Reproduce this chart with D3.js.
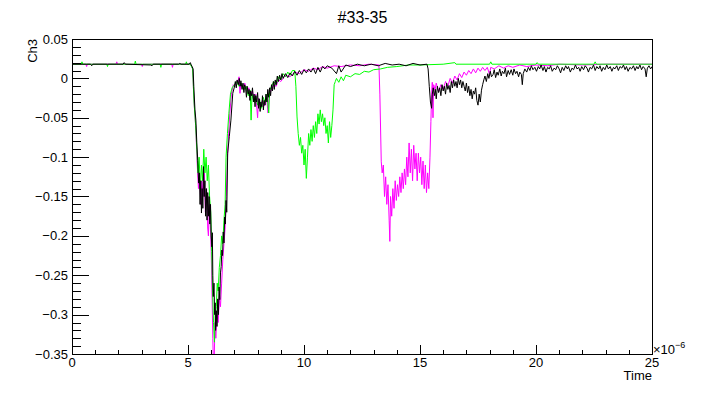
<!doctype html>
<html lang="en">
<head>
  <meta charset="utf-8">
  <title>#33-35</title>
  <style>
    body { margin: 0; background: #fff; }
    text { font-family: "Liberation Sans", Arial, sans-serif; fill: #000; }
  </style>
</head>
<body>
<div id="chartDiv"></div>
<script src="https://d3js.org/d3.v7.min.js"></script>
<script>
// time in units of 1e-6 s, amplitude of Ch3
var xTicks = [0, 5, 10, 15, 20, 25];
var yTicks = [0.05, 0, -0.05, -0.1, -0.15, -0.2, -0.25, -0.3, -0.35];
var yTickLabels = ["0.05", "0", "\u22120.05", "\u22120.1", "\u22120.15", "\u22120.2", "\u22120.25", "\u22120.3", "\u22120.35"];

var magentaTrace = [
  [0,0.018],[0.6,0.018],[0.63,0.015],[0.66,0.018],[1.9,0.018],[1.93,0.021],[1.96,0.018],[3.0,0.018],[3.03,0.015],[3.06,0.018],
  [4.3,0.018],[4.33,0.014],[4.36,0.018],[5.08,0.018],[5.14,0.016],[5.2,0.012],[5.26,-0.03],[5.33,-0.06],[5.4,-0.11],[5.45,-0.14],
  [5.5,-0.12],[5.55,-0.16],[5.6,-0.13],[5.65,-0.15],[5.7,-0.12],[5.75,-0.17],[5.8,-0.14],[5.85,-0.19],[5.88,-0.2],[5.92,-0.16],
  [5.96,-0.185],[6.0,-0.22],[6.04,-0.28],[6.07,-0.33],[6.1,-0.37],[6.13,-0.36],[6.16,-0.31],[6.2,-0.33],[6.25,-0.3],[6.3,-0.31],
  [6.35,-0.28],[6.4,-0.29],[6.45,-0.26],[6.5,-0.23],[6.55,-0.21],[6.6,-0.19],[6.65,-0.15],[6.7,-0.1],[6.75,-0.07],[6.8,-0.045],
  [6.87,-0.02],[6.95,-0.008],[7.0,-0.01],[7.1,-0.003],[7.15,-0.006],[7.2,0.002],[7.24,-0.019],[7.28,-0.006],[7.35,-0.01],[7.45,-0.006],
  [7.55,-0.018],[7.62,-0.012],[7.7,-0.022],[7.78,-0.016],[7.85,-0.028],[7.92,-0.02],[8.0,-0.05],[8.04,-0.025],[8.12,-0.034],[8.2,-0.028],
  [8.3,-0.035],[8.38,-0.022],[8.45,-0.044],[8.5,-0.02],[8.6,-0.014],[8.7,-0.008],[8.8,-0.01],[8.9,-0.002],[9.0,-0.004],[9.2,0.004],
  [9.4,0.002],[9.6,0.008],[9.8,0.006],[10.0,0.011],[10.2,0.009],[10.4,0.013],[10.6,0.011],[10.8,0.015],[11.0,0.013],[11.3,0.016],
  [11.6,0.015],[12.0,0.017],[12.4,0.016],[12.8,0.018],[13.23,0.017],[13.27,-0.02],[13.33,-0.106],[13.37,-0.12],[13.42,-0.11],[13.47,-0.15],
  [13.52,-0.125],[13.57,-0.16],[13.62,-0.135],[13.67,-0.18],[13.7,-0.207],[13.73,-0.15],[13.78,-0.175],[13.83,-0.14],[13.88,-0.165],[13.93,-0.13],
  [13.98,-0.155],[14.03,-0.135],[14.08,-0.15],[14.13,-0.125],[14.18,-0.145],[14.23,-0.12],[14.28,-0.14],[14.33,-0.115],[14.38,-0.135],[14.43,-0.1],
  [14.48,-0.125],[14.53,-0.082],[14.58,-0.12],[14.63,-0.09],[14.68,-0.13],[14.73,-0.085],[14.78,-0.115],[14.83,-0.095],[14.88,-0.13],[14.93,-0.095],
  [14.98,-0.12],[15.03,-0.1],[15.08,-0.135],[15.13,-0.105],[15.18,-0.14],[15.23,-0.11],[15.28,-0.145],[15.33,-0.12],[15.38,-0.14],[15.43,-0.1],
  [15.47,-0.055],[15.5,-0.02],[15.53,-0.005],[15.56,-0.05],[15.59,-0.008],[15.65,-0.015],[15.7,-0.006],[15.8,-0.017],[15.9,-0.008],[16.0,-0.014],
  [16.1,-0.004],[16.2,-0.01],[16.3,0.0],[16.4,-0.006],[16.5,0.003],[16.6,-0.002],[16.7,0.006],[16.8,0.001],[16.9,0.008],[17.0,0.004],
  [17.1,0.01],[17.2,0.006],[17.3,0.012],[17.4,0.007],[17.5,0.013],[17.6,0.009],[17.7,0.014],[17.8,0.01],[17.9,0.014],[18.0,0.005],
  [18.05,0.014],[18.2,0.012],[18.4,0.016],[18.6,0.013],[18.8,0.016],[19.0,0.014],[19.3,0.017],[19.6,0.015],[20.0,0.017],[20.5,0.016],
  [21.0,0.018],[22.0,0.017],[23.0,0.018],[25.0,0.018]
];

var greenTrace = [
  [0,0.018],[0.4,0.018],[0.43,0.021],[0.46,0.018],[1.5,0.018],[1.53,0.015],[1.56,0.018],[2.7,0.018],[2.73,0.022],[2.76,0.018],
  [3.8,0.018],[3.83,0.014],[3.86,0.018],[4.9,0.018],[4.93,0.021],[4.96,0.018],[5.1,0.018],[5.2,0.012],[5.26,-0.03],[5.33,-0.06],
  [5.38,-0.09],[5.43,-0.12],[5.48,-0.1],[5.53,-0.14],[5.58,-0.11],[5.63,-0.13],[5.68,-0.09],[5.73,-0.12],[5.78,-0.1],[5.83,-0.13],
  [5.88,-0.11],[5.93,-0.15],[5.98,-0.17],[6.02,-0.22],[6.06,-0.27],[6.1,-0.31],[6.14,-0.335],[6.18,-0.3],[6.22,-0.29],[6.26,-0.26],
  [6.3,-0.27],[6.35,-0.24],[6.4,-0.225],[6.45,-0.2],[6.5,-0.21],[6.55,-0.18],[6.6,-0.16],[6.64,-0.1],[6.7,-0.07],[6.76,-0.045],
  [6.83,-0.02],[6.9,-0.012],[7.0,-0.008],[7.1,-0.004],[7.2,-0.01],[7.3,-0.006],[7.4,-0.015],[7.5,-0.01],[7.6,-0.022],[7.68,-0.015],
  [7.72,-0.053],[7.76,-0.02],[7.85,-0.03],[7.92,-0.022],[8.0,-0.034],[8.08,-0.026],[8.16,-0.038],[8.24,-0.024],[8.32,-0.03],[8.4,-0.02],
  [8.48,-0.044],[8.52,-0.015],[8.6,-0.01],[8.7,-0.004],[8.8,-0.008],[8.9,0.002],[9.0,-0.002],[9.1,0.006],[9.2,0.002],[9.3,0.008],
  [9.4,0.004],[9.5,0.01],[9.6,0.01],[9.65,-0.01],[9.7,-0.049],[9.75,-0.07],[9.8,-0.085],[9.85,-0.075],[9.9,-0.095],[9.95,-0.085],
  [10.0,-0.11],[10.05,-0.09],[10.1,-0.127],[10.15,-0.1],[10.2,-0.07],[10.25,-0.085],[10.3,-0.065],[10.35,-0.08],[10.4,-0.06],[10.45,-0.075],
  [10.5,-0.055],[10.55,-0.07],[10.6,-0.045],[10.65,-0.058],[10.7,-0.04],[10.75,-0.055],[10.8,-0.045],[10.85,-0.06],[10.9,-0.05],[10.95,-0.07],
  [11.0,-0.06],[11.05,-0.082],[11.1,-0.055],[11.15,-0.075],[11.2,-0.06],[11.25,-0.04],[11.3,-0.008],[11.35,-0.004],[11.4,0.0],[11.5,-0.005],
  [11.6,0.002],[11.7,-0.003],[11.8,0.004],[12.0,0.002],[12.2,0.006],[12.4,0.005],[12.6,0.009],[12.8,0.008],[13.0,0.011],[13.3,0.012],
  [13.6,0.014],[14.0,0.015],[14.5,0.017],[15.0,0.017],[16.0,0.018],[16.5,0.02],[16.55,0.018],[18.0,0.018],[18.05,0.021],[18.1,0.018],
  [20.0,0.018],[20.05,0.02],[20.1,0.018],[22.5,0.018],[22.55,0.021],[22.6,0.018],[25.0,0.018]
];

var blackTrace = [
  [0,0.018],[0.8,0.018],[0.85,0.016],[0.9,0.018],[2.2,0.018],[2.25,0.02],[2.3,0.018],[3.4,0.017],[3.45,0.016],[3.5,0.018],
  [4.6,0.018],[4.65,0.019],[4.7,0.018],[5.05,0.018],[5.1,0.02],[5.14,0.017],[5.18,0.015],[5.22,0.012],[5.25,-0.01],[5.3,-0.04],
  [5.34,-0.053],[5.38,-0.082],[5.42,-0.104],[5.46,-0.133],[5.49,-0.12],[5.52,-0.16],[5.55,-0.13],[5.58,-0.171],[5.61,-0.14],[5.64,-0.165],
  [5.67,-0.112],[5.7,-0.15],[5.73,-0.13],[5.76,-0.175],[5.79,-0.14],[5.82,-0.18],[5.85,-0.145],[5.88,-0.175],[5.91,-0.15],[5.94,-0.185],
  [5.97,-0.16],[6.0,-0.2],[6.03,-0.214],[6.05,-0.196],[6.07,-0.25],[6.09,-0.277],[6.12,-0.26],[6.15,-0.3],[6.17,-0.285],[6.19,-0.32],
  [6.22,-0.295],[6.25,-0.315],[6.28,-0.28],[6.31,-0.3],[6.34,-0.265],[6.37,-0.281],[6.4,-0.247],[6.43,-0.239],[6.46,-0.218],[6.49,-0.225],
  [6.52,-0.195],[6.55,-0.209],[6.58,-0.176],[6.61,-0.185],[6.64,-0.155],[6.67,-0.17],[6.71,-0.095],[6.78,-0.074],[6.85,-0.053],[6.93,-0.019],
  [7.0,-0.011],[7.04,-0.004],[7.08,-0.012],[7.12,-0.002],[7.17,-0.008],[7.21,0.0],[7.25,-0.01],[7.28,-0.003],[7.33,-0.014],[7.37,-0.006],
  [7.41,-0.018],[7.44,-0.008],[7.48,-0.012],[7.52,-0.024],[7.55,-0.01],[7.6,-0.02],[7.63,-0.014],[7.67,-0.028],[7.7,-0.016],[7.74,-0.022],
  [7.78,-0.012],[7.82,-0.03],[7.85,-0.02],[7.89,-0.036],[7.92,-0.022],[7.96,-0.03],[8.0,-0.018],[8.04,-0.038],[8.07,-0.026],[8.11,-0.042],
  [8.14,-0.03],[8.18,-0.036],[8.21,-0.022],[8.25,-0.04],[8.28,-0.028],[8.32,-0.034],[8.36,-0.02],[8.4,-0.03],[8.44,-0.014],[8.48,-0.024],
  [8.52,-0.012],[8.56,-0.022],[8.6,-0.008],[8.64,-0.016],[8.68,-0.004],[8.72,-0.014],[8.76,-0.002],[8.8,-0.008],[8.85,0.003],[8.9,-0.004],
  [8.95,0.004],[9.0,-0.002],[9.05,0.006],[9.1,0.0],[9.2,0.006],[9.3,0.001],[9.4,0.007],[9.5,0.003],[9.6,0.009],[9.7,0.004],
  [9.8,0.01],[9.9,0.005],[10.0,0.011],[10.1,0.007],[10.2,0.012],[10.3,0.008],[10.4,0.013],[10.5,0.006],[10.6,0.014],[10.7,0.008],
  [10.8,0.015],[10.9,0.012],[11.0,0.016],[11.2,0.013],[11.4,0.006],[11.5,0.016],[11.6,0.008],[11.8,0.017],[12.0,0.015],[12.3,0.018],
  [12.6,0.016],[12.9,0.018],[13.2,0.016],[13.5,0.019],[13.8,0.017],[14.1,0.018],[14.4,0.016],[14.7,0.019],[15.0,0.017],[15.3,0.018],
  [15.35,0.012],[15.4,-0.01],[15.45,-0.03],[15.5,-0.038],[15.53,-0.02],[15.57,-0.012],[15.62,-0.022],[15.66,-0.014],[15.7,-0.026],[15.75,-0.01],
  [15.8,-0.018],[15.85,-0.012],[15.9,-0.022],[15.95,-0.008],[16.0,-0.016],[16.05,-0.01],[16.1,-0.02],[16.15,-0.006],[16.2,-0.014],[16.25,-0.009],
  [16.3,-0.018],[16.35,-0.004],[16.4,-0.012],[16.45,-0.002],[16.5,-0.01],[16.55,-0.004],[16.6,-0.012],[16.65,0.0],[16.7,-0.008],[16.75,-0.002],
  [16.8,-0.012],[16.85,-0.004],[16.9,-0.01],[16.95,-0.016],[17.0,-0.006],[17.05,-0.018],[17.1,-0.01],[17.15,-0.022],[17.2,-0.014],[17.25,-0.026],
  [17.3,-0.016],[17.35,-0.02],[17.4,-0.012],[17.45,-0.028],[17.5,-0.034],[17.55,-0.02],[17.6,-0.03],[17.65,-0.015],[17.7,-0.008],[17.75,-0.002],
  [17.8,0.003],[17.86,-0.004],[17.92,0.006],[17.97,0.0],[18.03,0.009],[18.08,0.002],[18.15,0.005],[18.2,0.011],[18.26,0.001],[18.32,0.008],
  [18.37,0.004],[18.44,0.012],[18.5,0.003],[18.55,0.009],[18.62,0.006],[18.68,0.013],[18.73,0.002],[18.8,0.01],[18.86,0.005],[18.93,0.011],
  [19.0,0.004],[19.05,0.012],[19.12,0.006],[19.18,0.009],[19.25,0.002],[19.3,0.008],[19.37,0.005],[19.41,-0.008],[19.45,0.006],[19.52,0.012],
  [19.6,0.008],[19.67,0.014],[19.74,0.01],[19.8,0.016],[19.87,0.011],[19.95,0.014],[20.02,0.009],[20.1,0.015],[20.16,0.012],[20.22,0.017],
  [20.3,0.01],[20.36,0.015],[20.43,0.008],[20.5,0.014],[20.57,0.012],[20.63,0.016],[20.7,0.009],[20.78,0.013],[20.85,0.011],[20.92,0.016],
  [21.0,0.012],[21.06,0.007],[21.13,0.014],[21.2,0.01],[21.28,0.016],[21.35,0.012],[21.4,0.015],[21.48,0.008],[21.55,0.013],[21.62,0.011],
  [21.7,0.017],[21.77,0.012],[21.84,0.014],[21.9,0.009],[21.97,0.015],[22.05,0.011],[22.12,0.016],[22.2,0.013],[22.26,0.008],[22.33,0.014],
  [22.4,0.012],[22.48,0.017],[22.55,0.01],[22.62,0.015],[22.7,0.012],[22.76,0.016],[22.83,0.009],[22.9,0.014],[22.97,0.011],[23.05,0.017],
  [23.12,0.012],[23.2,0.015],[23.27,0.009],[23.34,0.014],[23.4,0.012],[23.48,0.016],[23.55,0.01],[23.62,0.015],[23.7,0.013],[23.77,0.017],
  [23.84,0.011],[23.9,0.015],[23.97,0.009],[24.05,0.014],[24.12,0.012],[24.2,0.016],[24.27,0.01],[24.34,0.015],[24.4,0.012],[24.48,0.017],
  [24.55,0.011],[24.62,0.015],[24.7,0.012],[24.75,0.002],[24.8,0.013],[24.87,0.016],[24.94,0.012],[25.0,0.015]
];

var width = 725, height = 394;
var margin = {left: 72, right: 73, top: 39, bottom: 40};

var svg = d3.select("#chartDiv")
  .append("svg")
  .attr("width", width)
  .attr("height", height);

var x = d3.scaleLinear().domain([0, 25]).range([margin.left, width - margin.right]);
var y = d3.scaleLinear().domain([-0.35, 0.05]).range([height - margin.bottom, margin.top]);

svg.append("clipPath").attr("id", "frameClip")
  .append("rect")
  .attr("x", margin.left).attr("y", margin.top)
  .attr("width", x(25) - x(0)).attr("height", y(-0.35) - y(0.05));

var line = d3.line()
  .x(function(d) { return x(d[0]); })
  .y(function(d) { return y(d[1]); });

var traces = [
  {data: magentaTrace, color: "#ff00ff"},
  {data: greenTrace, color: "#00ff00"},
  {data: blackTrace, color: "#000000"}
];

svg.append("g")
  .attr("clip-path", "url(#frameClip)")
  .selectAll("path")
  .data(traces)
  .enter().append("path")
  .attr("d", function(d) { return line(d.data); })
  .attr("fill", "none")
  .attr("stroke", function(d) { return d.color; })
  .attr("stroke-width", 1);

// frame
svg.append("rect")
  .attr("x", x(0) + 0.5).attr("y", y(0.05) + 0.5)
  .attr("width", x(25) - x(0)).attr("height", y(-0.35) - y(0.05))
  .attr("fill", "none").attr("stroke", "#000").attr("stroke-width", 1);

// x axis ticks, major every 5, minor every 1
var xMinor = d3.range(0, 26, 1);
var gx = svg.append("g").attr("shape-rendering", "crispEdges");
gx.selectAll("line")
  .data(xMinor)
  .enter().append("line")
  .attr("x1", function(d) { return Math.round(x(d)) + 0.5; })
  .attr("x2", function(d) { return Math.round(x(d)) + 0.5; })
  .attr("y1", y(-0.35))
  .attr("y2", function(d) { return y(-0.35) - (d % 5 === 0 ? 9 : 4.5); })
  .attr("stroke", "#000");
gx.selectAll("text")
  .data(xTicks)
  .enter().append("text")
  .attr("x", function(d) { return x(d); })
  .attr("y", y(-0.35) + 13)
  .attr("text-anchor", "middle")
  .attr("font-size", 13)
  .text(function(d) { return String(d); });

// y axis ticks, major every 0.05, minor every 0.01
var yMinor = d3.range(0, 41, 1).map(function(i) { return -0.35 + i * 0.01; });
var gy = svg.append("g").attr("shape-rendering", "crispEdges");
gy.selectAll("line")
  .data(yMinor)
  .enter().append("line")
  .attr("x1", x(0))
  .attr("x2", function(d, i) { return x(0) + (i % 5 === 0 ? 17 : 9); })
  .attr("y1", function(d) { return Math.round(y(d)) + 0.5; })
  .attr("y2", function(d) { return Math.round(y(d)) + 0.5; })
  .attr("stroke", "#000");
gy.selectAll("text")
  .data(yTicks)
  .enter().append("text")
  .attr("x", x(0) - 4)
  .attr("y", function(d) { return y(d); })
  .attr("dy", "0.35em")
  .attr("text-anchor", "end")
  .attr("font-size", 13)
  .text(function(d, i) { return yTickLabels[i]; });

// exponent
var expo = svg.append("text")
  .attr("x", x(25) + 1)
  .attr("y", y(-0.35))
  .attr("font-size", 13);
expo.append("tspan").text("\u00d710");
expo.append("tspan").attr("dy", -6).attr("font-size", 9).text("\u22126");

// titles
svg.append("text")
  .attr("x", width / 2)
  .attr("y", 23)
  .attr("text-anchor", "middle")
  .attr("font-size", 16)
  .text("#33-35");

svg.append("text")
  .attr("x", x(25))
  .attr("y", 380)
  .attr("text-anchor", "end")
  .attr("font-size", 13)
  .text("Time");

svg.append("text")
  .attr("transform", "translate(37," + y(0.05) + ") rotate(-90)")
  .attr("text-anchor", "end")
  .attr("font-size", 13)
  .text("Ch3");
</script>
</body>
</html>
